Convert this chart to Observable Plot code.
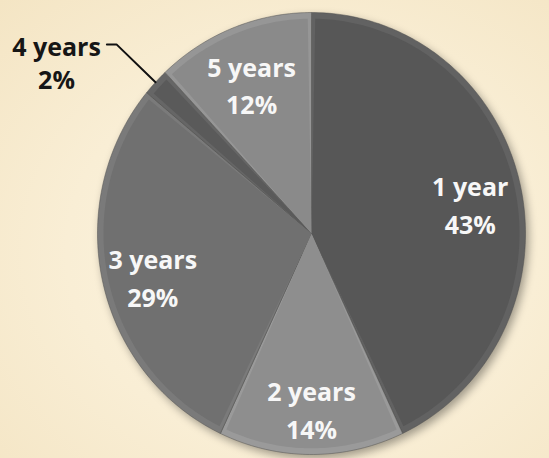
<!DOCTYPE html>
<html>
<head>
<meta charset="utf-8">
<script src="https://cdn.jsdelivr.net/npm/d3@7"></script>
<script src="https://cdn.jsdelivr.net/npm/@observablehq/plot@0.6"></script>
<style>
  html, body { margin: 0; padding: 0; }
  body {
    width: 549px; height: 458px; overflow: hidden;
    background: radial-gradient(ellipse at 55% 55%, #fdf6e4 0%, #f9eed5 55%, #f4e5c4 100%);
  }
  #chart svg { display: block; }
</style>
</head>
<body>
<div id="chart"></div>
<script>
// ---- data ----
const labels = ["1 year", "2 years", "3 years", "4 years", "5 years"];
const values = [43, 14, 29, 2, 12];
const sliceColors = ["#575757", "#8e8e8e", "#707070", "#5a5a5a", "#8a8a8a"];
const rimColors   = ["#626262", "#9a9a9a", "#7a7a7a", "#666666", "#969696"];
const pctLabels = values.map(v => v + "%");

// ---- geometry derived from data ----
const arcs = d3.pie().sort(null).value(d => d)(values);
const pt = (a, r) => ({x: r * Math.sin(a), y: r * Math.cos(a)});
function wedge(a0, a1, r, name) {
  const pts = [{...pt(0, 0), name}];
  const n = Math.max(2, Math.ceil((a1 - a0) / (Math.PI / 180)));
  for (let i = 0; i <= n; i++) pts.push({...pt(a0 + (a1 - a0) * i / n, r), name});
  pts.push({...pt(0, 0), name});
  return pts;
}
const outer = arcs.flatMap((a, i) => wedge(a.startAngle, a.endAngle, 1, labels[i]));
const delta = 0.018;
const inner = arcs.flatMap((a, i) => wedge(a.startAngle + delta, a.endAngle - delta, 0.972, labels[i]));

const mid = arcs.map(a => (a.startAngle + a.endAngle) / 2);
const insideIdx = [0, 1, 2, 4];
const insideLabels = insideIdx.map(i => ({...pt(mid[i], 0.76), text: labels[i] + "\n" + pctLabels[i]}));

// outside label for the small slice
const oi = 3;
const edge = pt(mid[oi], 1.0);
const elbow = pt(mid[oi], 1.25);
const leader = [edge, elbow, {x: elbow.x - 0.045, y: elbow.y}];
const outsideLabel = [{...elbow, text: labels[oi] + "\n" + pctLabels[oi]}];

const font = "'Open Sans', Lato, sans-serif";
const chart = Plot.plot({
  width: 549,
  height: 458,
  marginLeft: 97,
  marginRight: 24,
  marginTop: 12,
  marginBottom: 4,
  style: {background: "transparent", overflow: "visible"},
  x: {domain: [-1, 1], axis: null},
  y: {domain: [-1, 1], axis: null},
  color: {type: "ordinal", domain: labels, range: sliceColors},
  marks: [
    Plot.line(outer, {x: "x", y: "y", z: "name", fill: d => rimColors[labels.indexOf(d.name)], stroke: "#4c4c4c", strokeWidth: 0.8, strokeOpacity: 0.6}),
    Plot.line(inner, {x: "x", y: "y", z: "name", fill: "name", stroke: "none"}),
    Plot.line(leader, {x: "x", y: "y", stroke: "#111", strokeWidth: 2}),
    Plot.text(insideLabels, {x: "x", y: "y", text: "text", dy: 6, fill: "#f7f7f7", fontSize: 25, fontWeight: "bold", fontFamily: font, lineHeight: 1.52, lineAnchor: "middle"}),
    Plot.text(outsideLabel, {x: "x", y: "y", text: "text", dx: -60, dy: 18, fill: "#161616", fontSize: 25, fontWeight: "bold", fontFamily: font, lineHeight: 1.32, lineAnchor: "middle"})
  ]
});
document.getElementById("chart").appendChild(chart);
const firstG = chart.querySelector('g[aria-label="line"]');
if (firstG) firstG.style.filter = "drop-shadow(3px 4px 4px rgba(0,0,0,0.35))";
</script>
</body>
</html>
